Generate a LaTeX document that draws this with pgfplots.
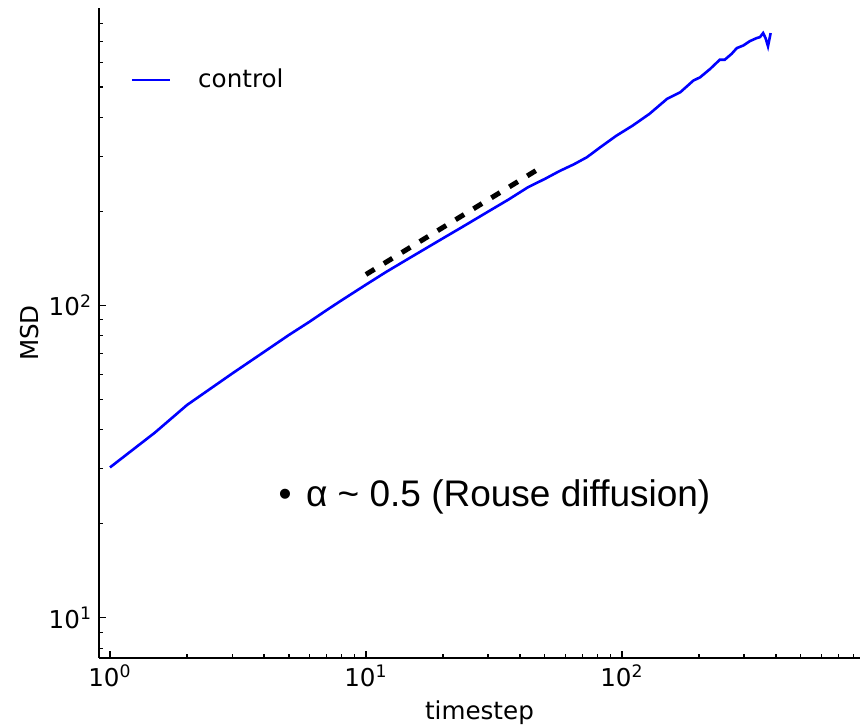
\documentclass[border=0pt]{standalone}
\usepackage{pgfplots}
\pgfplotsset{compat=1.18}
\usepackage{fontspec}
\setmainfont{DejaVu Sans}
\newfontfamily\arialfont{Liberation Sans}
\begin{document}
\begin{tikzpicture}
\begin{axis}[
  name=ax,
  scale only axis,
  width=380.5bp, height=325bp,
  xmode=log, ymode=log,
  xmin=0.906, xmax=851, ymin=7.44, ymax=895,
  axis x line*=bottom, axis y line*=left,
  axis line style={line width=0.9bp, black},
  tick align=inside,
  major tick length=3.5bp, minor tick length=2bp,
  every tick/.style={black, line width=0.6bp},
  xtick={1,10,100},
  xticklabels={10\textsuperscript{0},10\textsuperscript{1},10\textsuperscript{2}},
  ytick={10,100},
  yticklabels={10\textsuperscript{1},10\textsuperscript{2}},
  minor xtick={2,3,4,5,6,7,8,9,20,30,40,50,60,70,80,90,200,300,400,500,600,700,800},
  minor ytick={8,9,20,30,40,50,60,70,80,90,200,300,400,500,600,700,800},
  ticklabel style={font=\fontsize{12.3bp}{14bp}\selectfont},
  xlabel={timestep}, ylabel={MSD},
  label style={font=\fontsize{12.3bp}{14bp}\selectfont},
  xlabel style={at={(axis description cs:0.5,-0.0846)}, anchor=center},
  ylabel style={at={(axis description cs:-0.0907,0.5)}, anchor=center},
  legend style={draw=none, fill=none, at={(axis description cs:0.041,0.889)}, anchor=west,
    inner sep=0pt, nodes={inner sep=0pt}, font=\fontsize{12.3bp}{14bp}\selectfont,
    /tikz/every odd column/.append style={column sep=13.5bp}},
  legend image code/.code={\draw[#1] (0bp,0bp) -- (19bp,0bp);},
]
\addplot[blue, line width=1.3bp] coordinates {
(1,30.3) (1.5,39.2) (2,48) (3,60.5) (4,71) (5,80.4) (6,88.5) (7,96.4) (8,103.6)
(10,116.5) (12,128) (15,142.7) (20,164) (24,179) (30,199.6) (36,218) (43,239)
(50,254) (57,269) (65,283) (73,298) (82,320) (95,349) (110,376) (128,410)
(150,458) (169,481) (190,524) (202,537) (221,571) (241,611) (252,611) (268,638)
(281,666) (298,679) (316,701) (336,717) (346,722) (356,744) (364,717) (372,675) (381,744)
};
\addlegendentry{control}
\addplot[black, line width=2.5bp, dash pattern=on 5bp off 5.5bp, forget plot] coordinates {(10,125.6) (47.5,274)};
\node[anchor=base west, inner sep=0pt, font=\arialfont\fontsize{18.5bp}{22bp}\selectfont]
  at (rel axis cs:0.2356,0.2325) {•\hspace{7.2bp}α \char`\~{} 0.5 (Rouse diffusion)};
\end{axis}
\pgfresetboundingbox
\path[use as bounding box] ([xshift=-49.5bp,yshift=-34.5bp]ax.south west) rectangle ([yshift=4bp]ax.north east);
\end{tikzpicture}
\end{document}
